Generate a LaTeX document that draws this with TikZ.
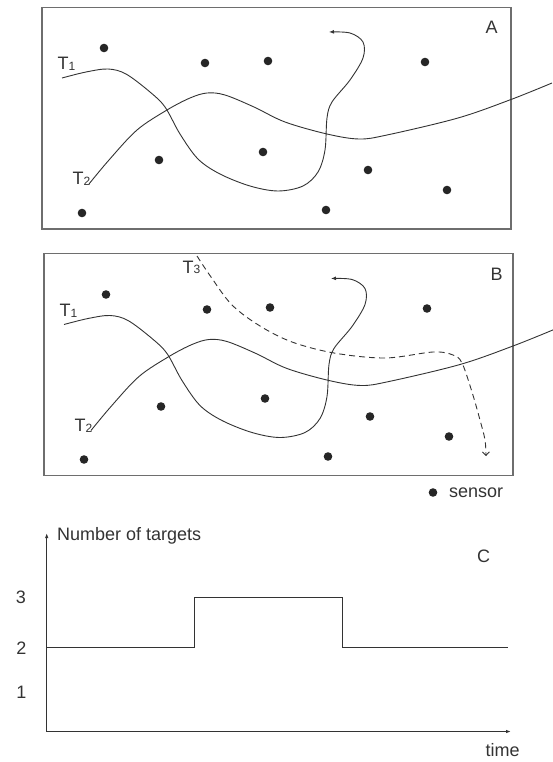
\documentclass[tikz,border=0pt]{standalone}
\usepackage{fontspec}
\setmainfont{Liberation Sans}
\usetikzlibrary{arrows.meta}
\definecolor{boxgray}{HTML}{6E6E6E}
\definecolor{ink}{HTML}{333333}
\definecolor{dotc}{HTML}{262626}
\newcommand{\Tlab}[1]{T\raisebox{-0.5pt}{\fontsize{12}{12}\selectfont #1}}
% one field of sensors with the two tracks, names prefixed by #1
\newcommand{\sensorfield}[1]{%
  \draw[frame] (42,7.3) rectangle (511,229);
  \foreach \sx/\sy [count=\k] in {104/48,205/63,268/61,425/62,159/160,263/152,368/170,447/190,82/213,326/210}
    \node[sensor] (#1s\k) at (\sx,\sy) {};
  \draw[track, -{Latex[length=5pt,width=4pt]}] plot[smooth, tension=0.55] coordinates {
    (62,78) (86,72) (108,69) (126,74) (150,92) (165,107) (180,134) (198,159) (220,174)
    (250,186) (278,191) (303,186) (318,172) (325,150) (327,118) (332,102) (350,80)
    (363,58) (363,42) (350,33) (329,32)};
  \draw[track] plot[smooth, tension=0.55] coordinates {
    (89,184) (109,160) (137,130) (167,110) (190,98) (207,93) (225,95) (254,107)
    (285,122) (327,134) (359,139) (387,135) (458,118) (511,99.5) (552,83)};
  \node[anchor=base west] (#1t1) at (57.5,70) {\Tlab{1}};
  \node[anchor=base west] (#1t2) at (72.5,185) {\Tlab{2}};
}

\begin{document}
\begin{tikzpicture}[x=1pt, y=-1pt,
  every node/.style={font=\fontsize{18}{21}\selectfont, text=ink, inner sep=0pt},
  frame/.style={draw=boxgray, line width=1.3pt},
  sensor/.style={circle, fill=dotc, minimum size=8.6pt, inner sep=0pt},
  track/.style={draw=ink, line width=0.9pt},
  axis/.style={draw=ink, line width=1.2pt, -{Latex[length=5pt,width=3.5pt]}}]
\useasboundingbox (0,0) rectangle (552,762);

% panel A
\sensorfield{a}
\node[anchor=base] (labA) at (491.7,33.3) {A};

% panel B: same field, plus the dashed third target
\begin{scope}[shift={(2,246.5)}]
\sensorfield{b}
\end{scope}
\node[anchor=base] (labB) at (496.5,280.7) {B};
\draw[track, dash pattern=on 6pt off 4pt, -{Straight Barb[length=3.5pt,width=7pt]}]
  plot[smooth, tension=0.55] coordinates {
  (197,256) (211,277) (232,305) (260,326) (292,342) (334,353) (385,358) (433,352)
  (453,355) (462,363) (472,392) (480,420) (485,440) (486,456)};
\node[anchor=base west] (bt3) at (182.5,273.3) {\Tlab{3}};

% legend
\node[sensor] (key) at (433,492.5) {};
\node[anchor=base west] (keytxt) at (449,497.3) {sensor};

% panel C
\coordinate (orig) at (46.7,731.5);
\coordinate (ytop) at (46.7,533);
\coordinate (xend) at (511,731.5);
\draw[axis] (orig) -- (ytop);
\draw[axis] (orig) -- (xend);
\draw[track] (46.7,647.5) -- (194.3,647.5) -- (194.3,597.7) -- (342.3,597.7)
  -- (342.3,647.5) -- (508,647.5);
\node (l3) at (21,597) {3};
\node (l2) at (21.5,648) {2};
\node (l1) at (21.5,692.5) {1};
\node[anchor=base west] (ylab) at (57,540) {Number of targets};
\node[anchor=base] (labC) at (483.7,562) {C};
\node[anchor=base] (xlab) at (502.5,756.5) {time};
\end{tikzpicture}
\end{document}
